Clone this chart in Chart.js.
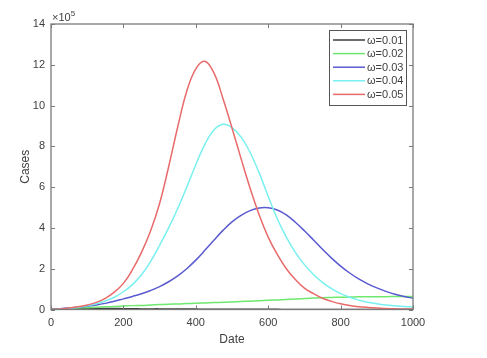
<!DOCTYPE html>
<html>
<head>
<meta charset="utf-8">
<script src="https://cdn.jsdelivr.net/npm/chart.js@4"></script>
<style>
  html, body { margin: 0; padding: 0; background: #fff; }
  #wrap { width: 487px; height: 358px; }
</style>
</head>
<body>
<div id="wrap"><canvas id="myChart" width="487" height="358"></canvas></div>
<script>
// values are in units of 10^5 cases
const dates = [0, 25, 50, 75, 100, 125, 150, 175, 200, 225, 250, 275, 300, 325, 350, 375, 400, 425, 450, 475,
  500, 525, 550, 575, 600, 625, 650, 675, 700, 725, 750, 775, 800, 825, 850, 875, 900, 925, 950, 975, 1000];

const w01 = [0.01, 0.03, 0.05, 0.06, 0.06, 0.06, 0.05, 0.05, 0.04, 0.04, 0.03, 0.03, 0.03, 0.02, 0.02, 0.02, 0.02, 0.01, 0.01, 0.01,
  0.01, 0.01, 0.01, 0.01, 0.01, 0.01, 0, 0, 0, 0, 0, 0, 0, 0, 0, 0, 0, 0, 0, 0, 0];
const w02 = [0.01, 0.03, 0.05, 0.07, 0.09, 0.11, 0.13, 0.15, 0.17, 0.19, 0.2, 0.22, 0.24, 0.26, 0.27, 0.29, 0.31, 0.32, 0.34, 0.35,
  0.37, 0.39, 0.41, 0.43, 0.45, 0.47, 0.49, 0.51, 0.54, 0.56, 0.58, 0.59, 0.6, 0.61, 0.62, 0.625, 0.63, 0.63, 0.635, 0.64, 0.64];
const w03 = [0.02, 0.04, 0.07, 0.11, 0.16, 0.22, 0.3, 0.4, 0.52, 0.64, 0.77, 0.93, 1.12, 1.36, 1.65, 2.0, 2.42, 2.9, 3.4, 3.88,
  4.3, 4.62, 4.85, 4.98, 4.99, 4.88, 4.64, 4.28, 3.86, 3.41, 2.95, 2.52, 2.13, 1.79, 1.5, 1.26, 1.06, 0.89, 0.75, 0.64, 0.55];
const w04 = [0.01, 0.03, 0.06, 0.11, 0.18, 0.28, 0.42, 0.6, 0.87, 1.22, 1.7, 2.35, 3.15, 4.0, 4.95, 6.0, 7.1, 8.1, 8.8, 9.08,
  8.92, 8.45, 7.7, 6.7, 5.55, 4.45, 3.55, 2.8, 2.2, 1.72, 1.33, 1.02, 0.78, 0.6, 0.46, 0.36, 0.28, 0.22, 0.18, 0.15, 0.12];
const w05 = [0.01, 0.03, 0.07, 0.13, 0.22, 0.35, 0.55, 0.85, 1.28, 1.95, 2.8, 3.85, 5.2, 7.0, 8.95, 10.7, 11.8, 12.17, 11.6, 10.35,
  8.9, 7.4, 5.95, 4.65, 3.55, 2.7, 2.0, 1.47, 1.05, 0.78, 0.55, 0.4, 0.28, 0.2, 0.14, 0.1, 0.07, 0.05, 0.035, 0.025, 0.02];

const labels = ['ω=0.01', 'ω=0.02', 'ω=0.03', 'ω=0.04', 'ω=0.05'];
const colors = ['#3c3c3c', '#6ee86e', '#5a5ad0', '#78f0f0', '#e86a6a'];
const xTicks = [0, 200, 400, 600, 800, 1000];
const yTicks = [0, 2, 4, 6, 8, 10, 12, 14];

const series = [w01, w02, w03, w04, w05];
const FONT = "'Liberation Sans', Arial, sans-serif";
const TEXT = '#404040';
const AXIS = '#7a7a7a';

// box + inward ticks + x10^5 + legend, matlab style
const matlabBits = {
  id: 'matlabBits',
  afterDatasetsDraw(chart) {
    const ctx = chart.ctx;
    const a = chart.chartArea;
    const xs = chart.scales.x, ys = chart.scales.y;
    ctx.save();
    ctx.strokeStyle = AXIS;
    ctx.lineWidth = 1.3;
    ctx.strokeRect(a.left, a.top, a.right - a.left, a.bottom - a.top);
    ctx.lineWidth = 1;
    ctx.beginPath();
    xTicks.forEach(v => {
      const px = Math.round(xs.getPixelForValue(v)) + 0.5;
      ctx.moveTo(px, a.bottom); ctx.lineTo(px, a.bottom - 4);
      ctx.moveTo(px, a.top); ctx.lineTo(px, a.top + 4);
    });
    yTicks.forEach(v => {
      const py = Math.round(ys.getPixelForValue(v)) + 0.5;
      ctx.moveTo(a.left, py); ctx.lineTo(a.left + 4, py);
      ctx.moveTo(a.right, py); ctx.lineTo(a.right - 4, py);
    });
    ctx.stroke();

    // exponent
    ctx.fillStyle = TEXT;
    ctx.textBaseline = 'alphabetic';
    ctx.textAlign = 'left';
    ctx.font = '11px ' + FONT;
    ctx.fillText('×10', a.left + 1, a.top - 3);
    const w = ctx.measureText('×10').width;
    ctx.font = '8px ' + FONT;
    ctx.fillText('5', a.left + 1 + w, a.top - 8);

    // legend
    const lx = 329.5, ly = 30.5, lw = 77, lh = 75;
    ctx.fillStyle = '#fff';
    ctx.fillRect(lx, ly, lw, lh);
    ctx.strokeStyle = '#555';
    ctx.lineWidth = 1;
    ctx.strokeRect(lx, ly, lw, lh);
    ctx.font = '11px ' + FONT;
    ctx.textBaseline = 'middle';
    labels.forEach((t, i) => {
      const y = 40 + i * 13.6;
      ctx.strokeStyle = colors[i];
      ctx.lineWidth = 1.5;
      ctx.beginPath();
      ctx.moveTo(333, y); ctx.lineTo(365, y);
      ctx.stroke();
      ctx.fillStyle = TEXT;
      ctx.fillText(t, 367, y + 0.5);
    });
    ctx.restore();
  }
};

const data = {
  datasets: series.map((s, i) => ({
    label: labels[i],
    data: dates.map((d, j) => ({ x: d, y: s[j] })),
    borderColor: colors[i],
    backgroundColor: colors[i],
    borderWidth: 1.5,
    pointRadius: 0,
    fill: false,
    tension: 0.4,
    order: 5 - i
  }))
};

const config = {
  type: 'line',
  data: data,
  options: {
    responsive: false,
    animation: false,
    layout: { padding: { left: 0, right: 74, top: 24, bottom: 0 } },
    plugins: { legend: { display: false }, tooltip: { enabled: false } },
    scales: {
      x: {
        type: 'linear',
        min: 0, max: 1000,
        afterBuildTicks: (scale) => { scale.ticks = xTicks.map(v => ({ value: v })); },
        afterFit: (scale) => { scale.height = 48.5; },
        grid: { display: false, drawTicks: false },
        border: { display: false },
        ticks: { padding: 7, color: TEXT, font: { family: FONT, size: 11 }, maxRotation: 0, callback: v => String(v) },
        title: { display: true, text: 'Date', color: TEXT, font: { family: FONT, size: 12 }, padding: { top: 0, bottom: 11 } }
      },
      y: {
        type: 'linear',
        min: 0, max: 14,
        afterBuildTicks: (scale) => { scale.ticks = yTicks.map(v => ({ value: v })); },
        afterFit: (scale) => { scale.width = 51; },
        grid: { display: false, drawTicks: false },
        border: { display: false },
        ticks: { padding: 6, color: TEXT, font: { family: FONT, size: 11 }, callback: v => String(v) },
        title: { display: true, text: 'Cases', color: TEXT, font: { family: FONT, size: 12 }, padding: { top: 18, bottom: 0 } }
      }
    }
  },
  plugins: [matlabBits]
};

const myChart = new Chart(document.getElementById('myChart'), config);
</script>
</body>
</html>
